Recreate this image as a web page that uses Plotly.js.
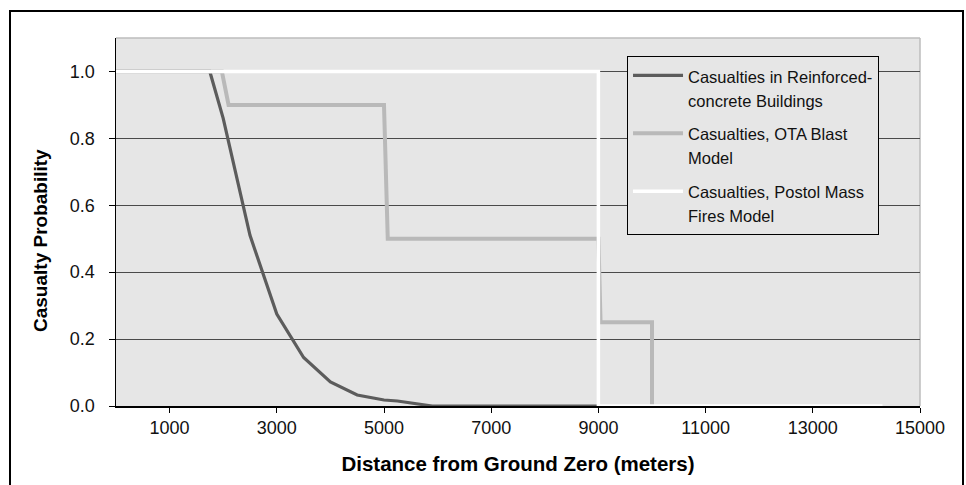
<!DOCTYPE html>
<html><head><meta charset="utf-8">
<script src="https://cdn.plot.ly/plotly-3.0.1.min.js"></script>
<style>
html,body{margin:0;padding:0;background:#fff;}
#chart{position:absolute;left:0;top:0;width:966px;height:485px;}
#frame{position:absolute;left:9px;top:10px;width:951px;height:480px;border:2px solid #000;pointer-events:none;}
</style></head><body>
<div id="chart"></div><div id="frame"></div>
<script>
const seriesLines = [
  ["Casualties in Reinforced-", "concrete Buildings"],
  ["Casualties, OTA Blast", "Model"],
  ["Casualties, Postol Mass", "Fires Model"]
];
const concreteX = [0, 1750, 2000, 2500, 3000, 3500, 4000, 4500, 5000, 5250, 5900, 9000];
const concreteY = [1.0, 1.0, 0.86, 0.51, 0.275, 0.145, 0.072, 0.033, 0.018, 0.015, 0.0, 0.0];
const otaX = [0, 1975, 2100, 5000, 5070, 9000, 9040, 10000, 10000];
const otaY = [1.0, 1.0, 0.9, 0.9, 0.5, 0.5, 0.25, 0.25, 0.0];
const postolX = [0, 9000, 9000, 14300];
const postolY = [1.0, 1.0, 0.0, 0.0];
const xTickVals = [1000, 3000, 5000, 7000, 9000, 11000, 13000, 15000];
const xTickText = ["1000", "3000", "5000", "7000", "9000", "11000", "13000", "15000"];
const yTickVals = [0.0, 0.2, 0.4, 0.6, 0.8, 1.0];
const yTickText = ["0.0", "0.2", "0.4", "0.6", "0.8", "1.0"];

const font = "Liberation Sans, Arial, sans-serif";
const legendName = lines => lines.map(s => "<span style='font-size:16.5px'>" + s + "</span>").join("<br>");
const traces = [
  {x: concreteX, y: concreteY, name: legendName(seriesLines[0]), type: "scatter", mode: "lines",
   line: {color: "#5c5c5c", width: 3.2}},
  {x: otaX, y: otaY, name: legendName(seriesLines[1]), type: "scatter", mode: "lines",
   line: {color: "#b9b9b9", width: 4}},
  {x: postolX, y: postolY, name: legendName(seriesLines[2]), type: "scatter", mode: "lines",
   line: {color: "#ffffff", width: 3.5}}
];
const layout = {
  width: 966, height: 485,
  margin: {l: 116, r: 46, t: 38, b: 79, pad: 0},
  paper_bgcolor: "#ffffff",
  plot_bgcolor: "#e6e6e6",
  font: {family: font, size: 16, color: "#000"},
  showlegend: true,
  legend: {
    x: 0.6356, y: (406 - 56) / 368, xanchor: "left", yanchor: "top",
    bgcolor: "#e6e6e6", bordercolor: "#000", borderwidth: 1,
    font: {family: font, size: 18.4, color: "#111"},
    valign: "top", tracegroupgap: 7, itemwidth: 50
  },
  xaxis: {
    range: [0, 15000], tickmode: "array", tickvals: xTickVals, ticktext: xTickText,
    ticks: "outside", ticklen: 5, tickcolor: "#000", tickwidth: 1,
    showline: true, linecolor: "#000", linewidth: 1.5,
    showgrid: false, zeroline: false,
    tickfont: {family: font, size: 18, color: "#111"},
    ticklabelstandoff: 0,
    title: {text: "Distance from Ground Zero (meters)", standoff: 19,
            font: {family: font, size: 20.5, color: "#000", weight: "bold"}}
  },
  yaxis: {
    range: [0, 1.1], tickmode: "array", tickvals: yTickVals, ticktext: yTickText,
    ticks: "outside", ticklen: 6, tickcolor: "#000", tickwidth: 1,
    showline: true, linecolor: "#000", linewidth: 1.5,
    showgrid: true, gridcolor: "#4a4a4a", gridwidth: 1,
    zeroline: false,
    tickfont: {family: font, size: 18, color: "#111"},
    ticklabelstandoff: 10
  },
  shapes: [
    {type: "line", xref: "paper", yref: "paper", x0: 0, x1: 1, y0: 1, y1: 1,
     line: {color: "#bdbdbd", width: 1.5}, layer: "below"},
    {type: "line", xref: "paper", yref: "paper", x0: 1, x1: 1, y0: 0, y1: 1,
     line: {color: "#bdbdbd", width: 1.5}, layer: "below"}
  ],
  annotations: [
    {text: "Casualty Probability", xref: "paper", yref: "paper",
     x: (41 - 116) / 804, y: (406 - 241) / 368, xanchor: "center", yanchor: "middle",
     textangle: -90, showarrow: false,
     font: {family: font, size: 19, color: "#000", weight: "bold"}}
  ]
};
traces.forEach((t, i) => { t.legendgroup = "g" + i; });
Plotly.newPlot("chart", traces, layout, {displayModeBar: false, staticPlot: true});
</script>
</body></html>
